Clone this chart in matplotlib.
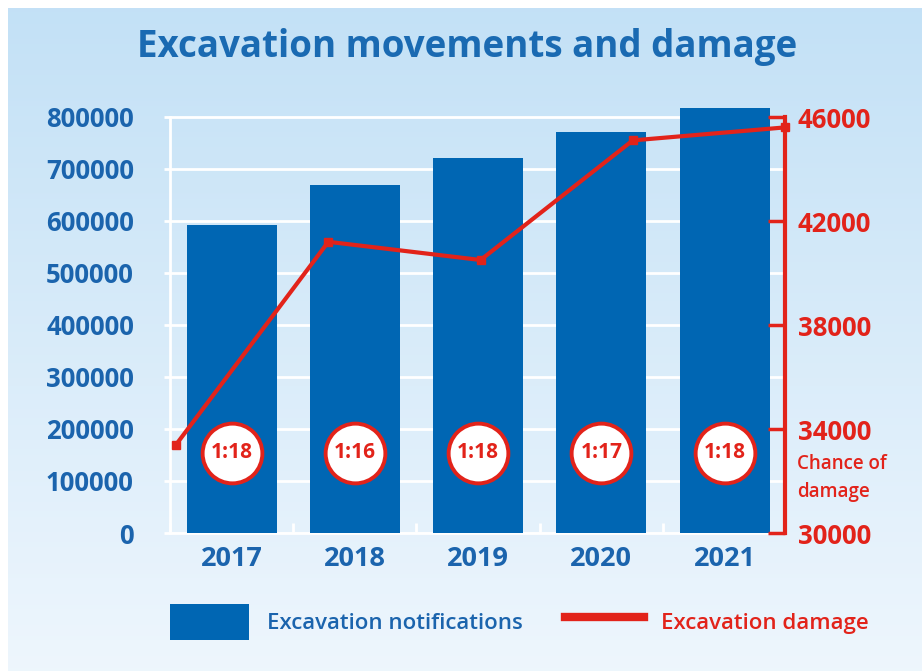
import matplotlib
matplotlib.use("Agg")
import matplotlib.pyplot as plt
import numpy as np
from matplotlib.patches import Patch
from matplotlib.lines import Line2D

plt.rcParams['font.family'] = ['Open Sans', 'DejaVu Sans']

# data
years = ['2017', '2018', '2019', '2020', '2021']
notifications = [592000, 669000, 721000, 771000, 817000]
damage = [33400, 41200, 40500, 45100, 45600]
chance = ['1:18', '1:16', '1:18', '1:17', '1:18']
left_ticks = [0, 100000, 200000, 300000, 400000, 500000, 600000, 700000, 800000]
right_ticks = [30000, 34000, 38000, 42000, 46000]

BLUE = '#0066b3'
TXT_BLUE = '#1b64ad'
RED = '#e2231a'

W, H = 922, 671
fig = plt.figure(figsize=(W / 100, H / 100), dpi=100)
fig.patch.set_facecolor('white')

# background gradient
bg = fig.add_axes([8 / W, 0, 1 - 8 / W, 1 - 8 / H])
grad = np.linspace(0, 1, 256).reshape(-1, 1)
top = np.array([0.765, 0.882, 0.965])
bot = np.array([0.933, 0.965, 0.992])
img = top + (bot - top) * grad[:, :, None] * np.ones((1, 1, 3))
bg.imshow(img, aspect='auto', extent=[0, 1, 0, 1])
bg.set_axis_off()

# main axes geometry (pixels)
x0, x1 = 170, 785
y_bottom, y_800k = 533, 117
ymax_left = 825000
ax_h = (y_bottom - y_800k) * ymax_left / 800000
rect = [x0 / W, 1 - y_bottom / H, (x1 - x0) / W, ax_h / H]

ax = fig.add_axes(rect)
ax.set_facecolor('none')
xpos = np.arange(len(years))
ax.bar(xpos, notifications, width=0.73, color=BLUE, zorder=3)
ax.set_xlim(-0.47, 4.49)
ax.set_ylim(0, ymax_left)
ax.set_yticks(left_ticks)
ax.set_yticklabels([str(v) for v in left_ticks])
ax.yaxis.grid(True, color='white', lw=2, zorder=0)
ax.set_axisbelow(True)
for s in ['top', 'right']:
    ax.spines[s].set_visible(False)
ax.spines['left'].set_color('white')
ax.spines['left'].set_linewidth(2)
ax.spines['left'].set_bounds(0, 800000)
ax.spines['bottom'].set_color('white')
ax.spines['bottom'].set_linewidth(2)
ax.tick_params(axis='y', colors='white', length=4, width=2, pad=22,
               labelcolor=TXT_BLUE, labelsize=18.5)
for t in ax.get_yticklabels():
    t.set_fontweight('bold')
ax.set_xticks(xpos)
ax.set_xticklabels(years, fontsize=19.5, fontweight='bold', color=TXT_BLUE)
ax.tick_params(axis='x', length=0, pad=9)
ax.set_xticks(xpos - 0.5, minor=True)
ax.tick_params(axis='x', which='minor', direction='in', length=7, width=2,
               color='white')

# badges with chance of damage
badge_y = 154000
ax.scatter(xpos, [badge_y] * len(xpos), s=1850, facecolor='white',
           edgecolor=RED, linewidth=2.8, zorder=5)
for xi, c in zip(xpos, chance):
    ax.text(xi, badge_y, c, ha='center', va='center', color=RED,
            fontsize=15, fontweight='bold', zorder=6)

# damage line on its own overlay axes
ax2 = fig.add_axes(rect)
ax2.set_facecolor('none')
ax2.plot(xpos, damage, color=RED, lw=3, marker='s', markersize=6,
         clip_on=False, zorder=4)
ax2.set_xlim(-0.04, 4)
ax2.set_ylim(30000, 30000 + 16000 * ymax_left / 800000)
ax2.set_xticks([])
ax2.yaxis.tick_right()
ax2.set_yticks(right_ticks)
ax2.set_yticklabels([str(v) for v in right_ticks])
for s in ['top', 'left', 'bottom']:
    ax2.spines[s].set_visible(False)
ax2.spines['right'].set_color(RED)
ax2.spines['right'].set_linewidth(3)
ax2.spines['right'].set_bounds(30000, 46000)
ax2.tick_params(axis='y', direction='in', length=12, width=2.5, color=RED,
                labelcolor=RED, labelsize=18.5, pad=9)
for t in ax2.get_yticklabels():
    t.set_fontweight('bold')

fig.text(797 / W, 1 - 478 / H, 'Chance of\ndamage', color=RED, fontsize=13.5,
         fontweight='semibold', ha='left', va='center', linespacing=1.5)

fig.text(467 / W, 1 - 47 / H, 'Excavation movements and damage',
         color='#1a6ab2', fontsize=26.5, fontweight='bold', ha='center',
         va='center')

handles = [Patch(facecolor=BLUE, edgecolor='none'),
           Line2D([0], [0], color=RED, lw=6)]
leg = fig.legend(handles, ['Excavation notifications', 'Excavation damage'],
                 loc='center left', bbox_to_anchor=(170 / W, 1 - 622 / H),
                 ncol=2, frameon=False, handlelength=3.55,
                 handleheight=2.1, handletextpad=0.8, columnspacing=1.9,
                 borderaxespad=0, borderpad=0,
                 prop={'weight': 'semibold', 'size': 16})
for txt, col in zip(leg.get_texts(), [TXT_BLUE, RED]):
    txt.set_color(col)

fig.savefig('out.png', dpi=100)
